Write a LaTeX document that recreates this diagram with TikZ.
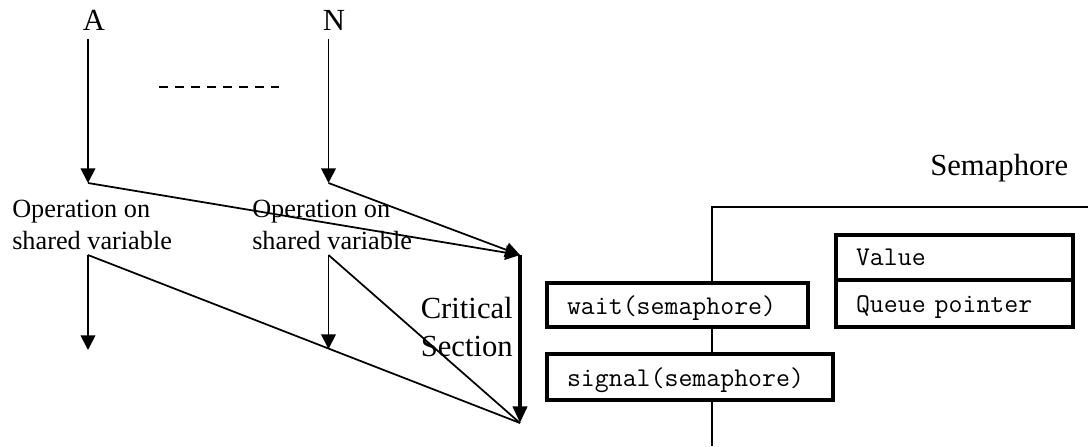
\documentclass[tikz,border=0pt]{standalone}
\usepackage{fontspec}
\setmainfont{Liberation Serif}
\usetikzlibrary{arrows.meta}
\begin{document}
\begin{tikzpicture}[x=0.75pt,y=-0.75pt,
  flow/.style={line width=1.3pt},
  arr/.style={line width=1.3pt,-{Triangle[length=11pt,width=11pt]}},
  bigarr/.style={line width=3pt,-{Triangle[length=12.5pt,width=10.5pt]}},
  bigtext/.style={inner sep=0pt,align=right,font=\fontsize{23}{28.5}\selectfont},
  optext/.style={inner sep=0pt,align=left,font=\fontsize{19.7}{24}\selectfont},
  cellbox/.style={draw,line width=3pt,fill=white,anchor=north west,
    inner ysep=0pt,inner xsep=15pt,align=left,
    text height=14pt,text depth=0.5pt,
    font=\ttfamily\fontsize{20.3}{22}\selectfont},
]
\useasboundingbox (0,0) rectangle (1088,446);

% process labels (base anchor of a two-line label sits on its last line)
\node[bigtext,anchor=base] (A) at (94,30) {A};
\node[bigtext,anchor=base] (N) at (334,30) {N};
\node[bigtext,anchor=base west] (sem) at (930,175) {Semaphore};
\node[optext,anchor=base west] (opA) at (12,249) {Operation on\\shared variable};
\node[optext,anchor=base west] (opN) at (252,249) {Operation on\\shared variable};
\node[bigtext,anchor=base east] (crit) at (513,356) {Critical\\Section};

% junction points of the flow
\coordinate (a0) at (88,39);
\coordinate (a1) at (88,183);
\coordinate (a2) at (88,255);
\coordinate (a3) at (88,350);
\coordinate (n0) at (328.5,39);
\coordinate (n1) at (328.5,183);
\coordinate (n2) at (328.5,255);
\coordinate (n3) at (328.5,349);
\coordinate (cs1) at (520,255);
\coordinate (cs2) at (520,423);
\coordinate (d0) at (159,87);
\coordinate (d1) at (279,87);

% process flows
\draw[arr] (a0) -- (a1);
\draw[arr] (n0) -- (n1);
\draw[flow,dash pattern=on 7pt off 5pt] (d0) -- (d1);
\draw[arr] (a1) -- (cs1);
\draw[arr] (n1) -- (cs1);
\draw[bigarr] (cs1) -- (cs2);
\draw[arr] (a2) -- (a3);
\draw[arr] (n2) -- (n3);
\draw[flow] (a2) -- (cs2);
\draw[flow] (n2) -- (cs2);

% semaphore outline
\coordinate (semB) at (712,446);
\coordinate (semT) at (712,207);
\coordinate (semR) at (1088,207);
\draw[flow] (semB) -- (semT) -- (semR);

% operations and fields
\node[cellbox,minimum width=195.75pt,minimum height=33pt,text width=165.75pt] (wait) at (545,281) {wait(semaphore)};
\node[cellbox,minimum width=214.5pt,minimum height=34.5pt,text width=184.5pt] (signal) at (545,352) {signal(semaphore)};
\node[cellbox,minimum width=177.75pt,minimum height=33.75pt,text width=147.75pt,text height=12pt,text depth=0.75pt] (value) at (834,233) {Value};
\node[cellbox,minimum width=177.75pt,minimum height=35.25pt,text width=147.75pt] (queue) at (834,278) {Queue pointer};
\end{tikzpicture}
\end{document}
